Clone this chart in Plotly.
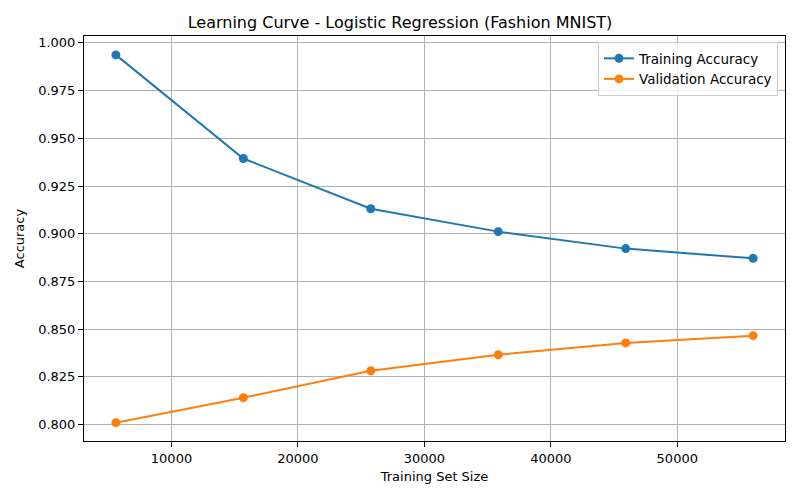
import plotly.graph_objects as go

train_sizes = [5600, 15680, 25760, 35840, 45920, 56000]
train_acc = [0.9937, 0.9394, 0.9131, 0.9011, 0.8922, 0.8871]
val_acc = [0.8010, 0.8141, 0.8282, 0.8366, 0.8428, 0.8466]

x_ticks = [10000, 20000, 30000, 40000, 50000]
y_ticks = [0.800, 0.825, 0.850, 0.875, 0.900, 0.925, 0.950, 0.975, 1.000]

fig = go.Figure()

fig.add_trace(
    go.Scatter(
        x=train_sizes,
        y=train_acc,
        mode="lines+markers",
        name="Training Accuracy",
        line=dict(color="#1f77b4", width=2),
        marker=dict(size=9, color="#1f77b4"),
    )
)

fig.add_trace(
    go.Scatter(
        x=train_sizes,
        y=val_acc,
        mode="lines+markers",
        name="Validation Accuracy",
        line=dict(color="#ff7f0e", width=2),
        marker=dict(size=9, color="#ff7f0e"),
    )
)

axis_style = dict(
    showline=True,
    linecolor="black",
    linewidth=1,
    mirror=True,
    ticks="outside",
    ticklen=5,
    tickcolor="black",
    showgrid=True,
    gridcolor="#b0b0b0",
    gridwidth=1,
    zeroline=False,
    tickfont=dict(size=13, color="black"),
)

fig.update_xaxes(
    **axis_style,
    range=[3080, 58520],
    tickvals=x_ticks,
    ticktext=[str(v) for v in x_ticks],
    title=dict(text="Training Set Size", font=dict(size=13, color="black"), standoff=7),
)
fig.update_yaxes(
    **axis_style,
    range=[0.7914, 1.0036],
    tickvals=y_ticks,
    ticktext=[f"{v:.3f}" for v in y_ticks],
    title=dict(text="Accuracy", font=dict(size=13, color="black"), standoff=10),
)

fig.update_layout(
    width=800,
    height=500,
    font=dict(family="DejaVu Sans", size=13, color="black"),
    title=dict(
        text="Learning Curve - Logistic Regression (Fashion MNIST)",
        x=0.5,
        xanchor="center",
        y=0.955,
        yanchor="middle",
        font=dict(size=16, color="black"),
    ),
    plot_bgcolor="white",
    paper_bgcolor="white",
    margin=dict(l=84, r=15, t=36, b=59),
    showlegend=True,
    legend=dict(
        x=0.99,
        y=0.985,
        xanchor="right",
        yanchor="top",
        bgcolor="rgba(255,255,255,0.8)",
        bordercolor="#cccccc",
        borderwidth=1,
        font=dict(size=13.5, color="black"),
        tracegroupgap=0,
    ),
)

# drop the browser's default body margin so the figure sits at 0,0
fig.write_html(
    "out.html",
    config={"displayModeBar": False},
    post_script="document.body.style.margin='0px';",
)
